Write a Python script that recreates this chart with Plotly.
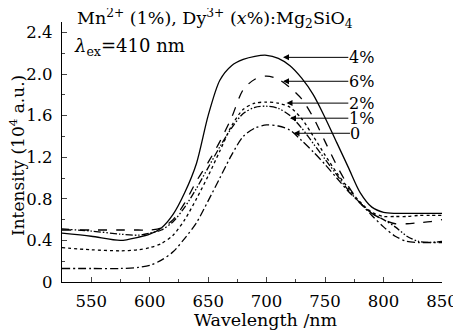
import plotly.graph_objects as go

wl = [525, 550, 575, 590, 600, 610, 620, 630, 640, 650, 660, 670, 680, 690, 700,
      710, 720, 730, 740, 750, 760, 770, 780, 790, 800, 810, 820, 830, 840, 850]

s4 = [0.47, 0.44, 0.40, 0.43, 0.46, 0.52, 0.65, 0.86, 1.14, 1.60, 1.94, 2.08, 2.14, 2.17, 2.18,
      2.15, 2.08, 1.96, 1.80, 1.58, 1.34, 1.10, 0.86, 0.72, 0.67, 0.66, 0.66, 0.66, 0.66, 0.66]
s6 = [0.50, 0.50, 0.50, 0.50, 0.50, 0.52, 0.60, 0.76, 0.97, 1.15, 1.35, 1.58, 1.85, 1.95, 1.98,
      1.95, 1.87, 1.76, 1.58, 1.35, 1.12, 0.92, 0.76, 0.66, 0.60, 0.56, 0.56, 0.57, 0.58, 0.60]
s2 = [0.33, 0.31, 0.30, 0.31, 0.33, 0.37, 0.45, 0.60, 0.80, 1.02, 1.26, 1.50, 1.66, 1.72, 1.73,
      1.72, 1.68, 1.57, 1.40, 1.22, 1.05, 0.90, 0.77, 0.67, 0.63, 0.63, 0.63, 0.64, 0.64, 0.64]
s1 = [0.51, 0.49, 0.46, 0.45, 0.47, 0.50, 0.58, 0.72, 0.90, 1.10, 1.30, 1.48, 1.62, 1.68, 1.69,
      1.67, 1.60, 1.48, 1.33, 1.18, 1.03, 0.88, 0.76, 0.66, 0.60, 0.53, 0.44, 0.39, 0.38, 0.39]
s0 = [0.13, 0.13, 0.13, 0.14, 0.16, 0.21, 0.29, 0.42, 0.57, 0.78, 1.00, 1.22, 1.40, 1.48, 1.51,
      1.50, 1.46, 1.36, 1.25, 1.13, 1.00, 0.87, 0.76, 0.64, 0.53, 0.44, 0.39, 0.38, 0.38, 0.38]

series_names = ["4%", "6%", "2%", "1%", "0"]
series_vals = [s4, s6, s2, s1, s0]
series_dash = ["solid", "dash", "dot", "7px,2px,1.5px,2px,1.5px,2px", "8px,3px,2px,3px"]

# label arrow tip (on curve) and label position
tip_x = [714, 714, 717, 720, 723]
tip_y = [2.16, 1.93, 1.72, 1.575, 1.43]
lab_x = [781, 781, 781, 781, 776]

x_ticks = [550, 600, 650, 700, 750, 800, 850]
y_ticks = [0, 0.4, 0.8, 1.2, 1.6, 2.0, 2.4]
y_ticktext = ["0", "0.4", "0.8", "1.2", "1.6", "2.0", "2.4"]

FONT = "DejaVu Serif"

fig = go.Figure()
for name, vals, dash in zip(series_names, series_vals, series_dash):
    fig.add_trace(go.Scatter(x=wl, y=vals, mode="lines", name=name,
                             line=dict(color="black", width=1.3, dash=dash, shape="spline", smoothing=0.8)))

for name, tx, ty, lx in zip(series_names, tip_x, tip_y, lab_x):
    fig.add_annotation(x=tx, y=ty, ax=lx, ay=ty, axref="x", ayref="y", xref="x", yref="y",
                       text=name, showarrow=True, arrowhead=2, arrowsize=1.2, arrowwidth=1,
                       arrowcolor="black", font=dict(family=FONT, size=16, color="black"),
                       borderpad=0, standoff=0)

fig.add_annotation(xref="paper", yref="paper", x=0.034, y=1.013, xanchor="left", yanchor="middle",
                   text="Mn<sup>2+</sup> (1%), Dy<sup>3+</sup> (<i>x</i>%):Mg<sub>2</sub>SiO<sub>4</sub>",
                   showarrow=False, font=dict(family=FONT, size=17.5, color="black"))
fig.add_annotation(xref="paper", yref="paper", x=0.026, y=0.905, xanchor="left", yanchor="middle",
                   text="<i>λ</i><sub>ex</sub>=410 nm",
                   showarrow=False, font=dict(family=FONT, size=18, color="black"))
# axis titles
fig.add_annotation(xref="paper", yref="paper", x=0.536, y=-0.146, xanchor="center", yanchor="middle",
                   text="Wavelength /nm", showarrow=False,
                   font=dict(family=FONT, size=17.5, color="black"))
fig.add_annotation(xref="paper", yref="paper", x=-0.118, y=0.485, xanchor="center", yanchor="middle",
                   text="Intensity (10<sup>4</sup> a.u.)", textangle=-90, showarrow=False,
                   font=dict(family=FONT, size=17, color="black"))

# page body has an 8px default margin: figure is offset by 8px, so shrink it accordingly
fig.update_layout(
    width=453, height=326,
    margin=dict(l=54, r=19, t=14, b=52, autoexpand=False),
    paper_bgcolor="white", plot_bgcolor="white",
    showlegend=False,
    font=dict(family=FONT, size=16, color="black"),
)
fig.update_xaxes(range=[525, 850], tickvals=x_ticks, ticks="inside", ticklen=5, tickwidth=1,
                 minor=dict(dtick=25, ticks="inside", ticklen=3, tickwidth=1, tick0=525),
                 showline=True, linecolor="black", linewidth=1.2, showgrid=False, zeroline=False,
                 ticklabelstandoff=4, automargin=False, tickfont=dict(size=16.5))
fig.update_yaxes(range=[0, 2.5], tickvals=y_ticks, ticktext=y_ticktext, ticks="inside", ticklen=5, tickwidth=1,
                 minor=dict(dtick=0.2, ticks="inside", ticklen=3, tickwidth=1),
                 showline=True, linecolor="black", linewidth=1.2, showgrid=False, zeroline=False,
                 ticklabelstandoff=5, automargin=False, tickfont=dict(size=16.5))

fig.write_html("out.html")
